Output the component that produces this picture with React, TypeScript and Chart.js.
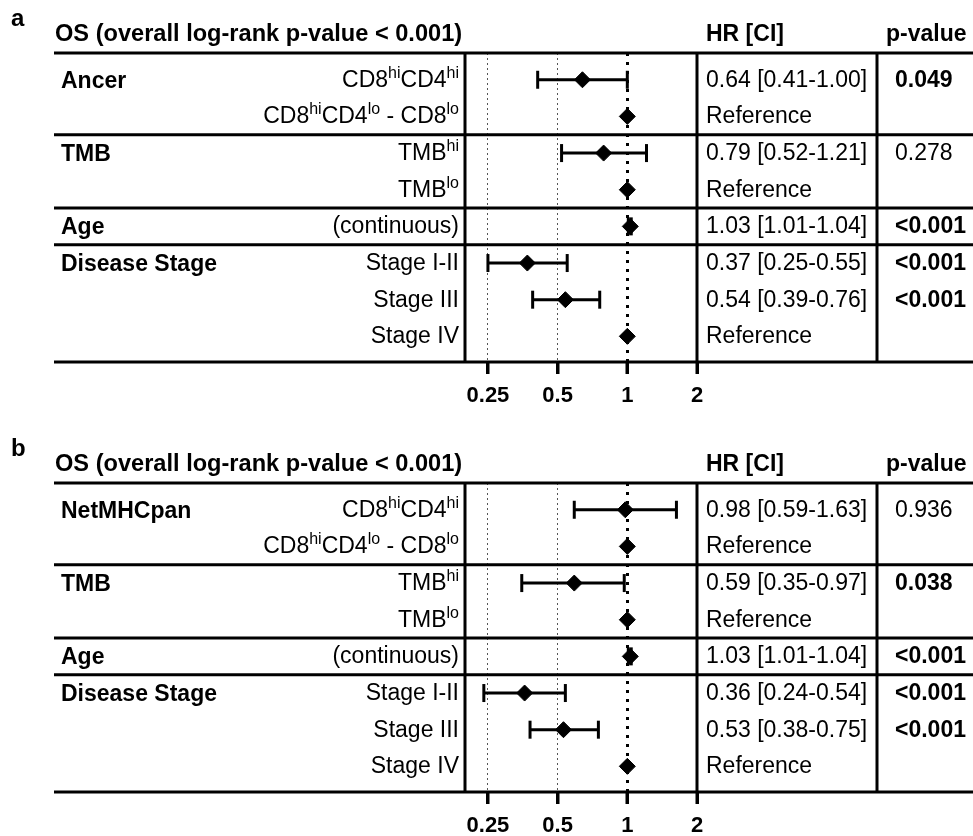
import React, { useEffect, useRef } from "react";
import { Chart, registerables } from "chart.js";

Chart.register(...registerables);

const FONT = "'Liberation Sans', Arial, Helvetica, sans-serif";

// ---------- shared layout data ----------
const ROWS = [0, 1, 2, 3, 4, 5, 6, 7];
const SEPARATORS = [1.5, 3.5, 4.5];
const GROUP_ROWS = [0, 2, 4, 5];
const X_TICKS = [0.25, 0.5, 1, 2];
const X_MIN = 0.199;
const X_MAX = 2;
const TITLE = "OS (overall log-rank p-value < 0.001)";
const HR_HEADER = "HR [CI]";
const P_HEADER = "p-value";

const SUB_LABELS = [
  "CD8{hi}CD4{hi}",
  "CD8{hi}CD4{lo} - CD8{lo}",
  "TMB{hi}",
  "TMB{lo}",
  "(continuous)",
  "Stage I-II",
  "Stage III",
  "Stage IV",
];

// ---------- panel a ----------
const A_GROUPS = ["Ancer", "TMB", "Age", "Disease Stage"];
const A_HR = [0.64, 1, 0.79, 1, 1.03, 0.37, 0.54, 1];
const A_LO = [0.41, null, 0.52, null, 1.01, 0.25, 0.39, null];
const A_HI = [1.0, null, 1.21, null, 1.04, 0.55, 0.76, null];
const A_HR_TEXT = [
  "0.64 [0.41-1.00]",
  "Reference",
  "0.79 [0.52-1.21]",
  "Reference",
  "1.03 [1.01-1.04]",
  "0.37 [0.25-0.55]",
  "0.54 [0.39-0.76]",
  "Reference",
];
const A_P = ["0.049", "", "0.278", "", "<0.001", "<0.001", "<0.001", ""];
const A_P_BOLD = [true, false, false, false, true, true, true, false];

// ---------- panel b ----------
const B_GROUPS = ["NetMHCpan", "TMB", "Age", "Disease Stage"];
const B_HR = [0.98, 1, 0.59, 1, 1.03, 0.36, 0.53, 1];
const B_LO = [0.59, null, 0.35, null, 1.01, 0.24, 0.38, null];
const B_HI = [1.63, null, 0.97, null, 1.04, 0.54, 0.75, null];
const B_HR_TEXT = [
  "0.98 [0.59-1.63]",
  "Reference",
  "0.59 [0.35-0.97]",
  "Reference",
  "1.03 [1.01-1.04]",
  "0.36 [0.24-0.54]",
  "0.53 [0.38-0.75]",
  "Reference",
];
const B_P = ["0.936", "", "0.038", "", "<0.001", "<0.001", "<0.001", ""];
const B_P_BOLD = [false, false, true, false, true, true, true, false];

type PanelProps = {
  letter: string;
  groups: string[];
  hr: number[];
  lo: (number | null)[];
  hi: (number | null)[];
  hrText: string[];
  p: string[];
  pBold: boolean[];
  height: number;
};

const W = 973;
const MAIN = 23;
const SUP = 16;

function drawRich(ctx: CanvasRenderingContext2D, text: string, xRight: number, y: number) {
  const parts = text.split(/(\{[^}]*\})/).filter((s) => s.length > 0);
  const segs = parts.map((s) =>
    s.startsWith("{") ? { t: s.slice(1, -1), sup: true } : { t: s, sup: false }
  );
  let total = 0;
  const widths = segs.map((s) => {
    ctx.font = `${s.sup ? SUP : MAIN}px ${FONT}`;
    const w = ctx.measureText(s.t).width;
    total += w;
    return w;
  });
  let x = xRight - total;
  segs.forEach((s, i) => {
    ctx.font = `${s.sup ? SUP : MAIN}px ${FONT}`;
    ctx.fillText(s.t, x, s.sup ? y - 9 : y);
    x += widths[i];
  });
}

function Panel(props: PanelProps) {
  const ref = useRef<HTMLCanvasElement | null>(null);
  useEffect(() => {
    const canvas = ref.current;
    if (!canvas) return;
    const { letter, groups, hr, lo, hi, hrText, p, pBold, height } = props;

    const diamonds = ROWS.map((r) => ({ x: hr[r], y: r }));
    const caps: any[] = [];
    const ciLines: any[] = [];
    ROWS.forEach((r) => {
      if (lo[r] != null && hi[r] != null) {
        caps.push({ x: lo[r], y: r }, { x: hi[r], y: r });
        ciLines.push({ x: lo[r], y: r }, { x: hi[r], y: r }, { x: null, y: null });
      }
    });

    const tablePlugin = {
      id: "tablePlugin",
      afterDraw(chart: any) {
        const ctx: CanvasRenderingContext2D = chart.ctx;
        const area = chart.chartArea;
        const yS = chart.scales.y;
        const xS = chart.scales.x;
        const left = area.left;
        const right = area.right;
        const pDiv = right + 180;
        const top = area.top;
        const bottom = area.bottom;
        ctx.save();
        ctx.strokeStyle = "#000";
        ctx.lineWidth = 3;
        ctx.setLineDash([]);
        // horizontal lines
        const hLines = [top, ...SEPARATORS.map((s) => yS.getPixelForValue(s)), bottom];
        hLines.forEach((y) => {
          ctx.beginPath();
          ctx.moveTo(54, y);
          ctx.lineTo(W, y);
          ctx.stroke();
        });
        // vertical lines
        [left, right, pDiv].forEach((x) => {
          ctx.beginPath();
          ctx.moveTo(x, top);
          ctx.lineTo(x, bottom);
          ctx.stroke();
        });
        // axis tick marks (from the x scale's ticks)
        xS.ticks.forEach((t: any) => {
          const x = Math.round(xS.getPixelForValue(t.value));
          ctx.beginPath();
          ctx.moveTo(x, bottom);
          ctx.lineTo(x, bottom + 12);
          ctx.stroke();
        });
        ctx.fillStyle = "#000";
        ctx.textBaseline = "alphabetic";
        ctx.textAlign = "left";
        // panel letter & headers
        ctx.font = `bold 24px ${FONT}`;
        ctx.fillText(letter, 11, 26);
        ctx.font = `bold 23.6px ${FONT}`;
        ctx.fillText(TITLE, 55, top - 12);
        ctx.font = `bold ${MAIN}px ${FONT}`;
        ctx.fillText(HR_HEADER, right + 9, top - 12);
        ctx.fillText(P_HEADER, pDiv + 9, top - 12);
        // group labels
        GROUP_ROWS.forEach((r, i) => {
          ctx.font = `bold ${MAIN}px ${FONT}`;
          ctx.fillText(groups[i], 61, yS.getPixelForValue(r) + 8);
        });
        // sub labels, HR text, p-values
        ROWS.forEach((r) => {
          const y = yS.getPixelForValue(r) + 7;
          drawRich(ctx, SUB_LABELS[r], left - 6, y);
          ctx.font = `${MAIN}px ${FONT}`;
          ctx.fillText(hrText[r], right + 9, y);
          if (p[r]) {
            ctx.font = `${pBold[r] ? "bold " : ""}${MAIN}px ${FONT}`;
            ctx.fillText(p[r], pDiv + 18, y);
          }
        });
        ctx.restore();
      },
    };

    const chart = new Chart(canvas, {
      type: "scatter",
      data: {
        datasets: [
          {
            label: "HR",
            data: diamonds,
            pointStyle: "rectRot",
            pointRadius: 8,
            backgroundColor: "#000",
            borderColor: "#000",
            borderWidth: 1,
            order: 0,
          },
          {
            label: "caps",
            data: caps,
            pointStyle: "line",
            rotation: 90,
            pointRadius: 9,
            borderColor: "#000",
            backgroundColor: "#000",
            borderWidth: 3,
            order: 1,
          },
          {
            label: "CI",
            data: ciLines,
            showLine: true,
            spanGaps: false,
            pointRadius: 0,
            borderColor: "#000",
            borderWidth: 3,
            order: 2,
          } as any,
        ],
      },
      options: {
        responsive: false,
        animation: false,
        events: [],
        layout: {
          padding: { left: 465, right: W - 697, top: 53, bottom: height - 362 - 44 },
        },
        plugins: { legend: { display: false }, tooltip: { enabled: false } },
        scales: {
          x: {
            type: "logarithmic",
            position: "bottom",
            min: X_MIN,
            max: X_MAX,
            afterBuildTicks: (axis: any) => {
              axis.ticks = X_TICKS.map((v) => ({ value: v }));
            },
            afterFit: (axis: any) => {
              axis.height = 44;
            },
            ticks: {
              autoSkip: false,
              maxRotation: 0,
              padding: 9,
              color: "#000",
              font: { family: FONT, size: 22, weight: "bold" },
              callback: (v: any) => String(v),
            },
            grid: {
              display: true,
              drawTicks: true,
              drawOnChartArea: true,
              color: (c: any) =>
                c.tick && c.tick.value === 2
                  ? "rgba(0,0,0,0)"
                  : c.tick && c.tick.value === 1
                  ? "#000"
                  : "#555",
              lineWidth: (c: any) => (c.tick && c.tick.value === 1 ? 3 : 1),
              tickColor: "#000",
              tickWidth: 3,
              tickLength: 12,
            },
            border: {
              display: false,
              dash: (c: any) => (c.tick && c.tick.value === 1 ? [3, 6] : [2, 3]),
            },
          } as any,
          y: {
            type: "linear",
            display: false,
            min: -0.73,
            max: 7.7,
            reverse: true,
          },
        },
      },
      plugins: [tablePlugin],
    } as any);
    return () => chart.destroy();
  }, []);
  return <canvas ref={ref} width={W} height={props.height} style={{ display: "block" }} />;
}

export default function App() {
  return (
    <div style={{ position: "absolute", left: 0, top: 0, width: W, height: 836, background: "#fff" }}>
      <Panel
        letter="a"
        groups={A_GROUPS}
        hr={A_HR}
        lo={A_LO}
        hi={A_HI}
        hrText={A_HR_TEXT}
        p={A_P}
        pBold={A_P_BOLD}
        height={430}
      />
      <Panel
        letter="b"
        groups={B_GROUPS}
        hr={B_HR}
        lo={B_LO}
        hi={B_HI}
        hrText={B_HR_TEXT}
        p={B_P}
        pBold={B_P_BOLD}
        height={406}
      />
    </div>
  );
}
